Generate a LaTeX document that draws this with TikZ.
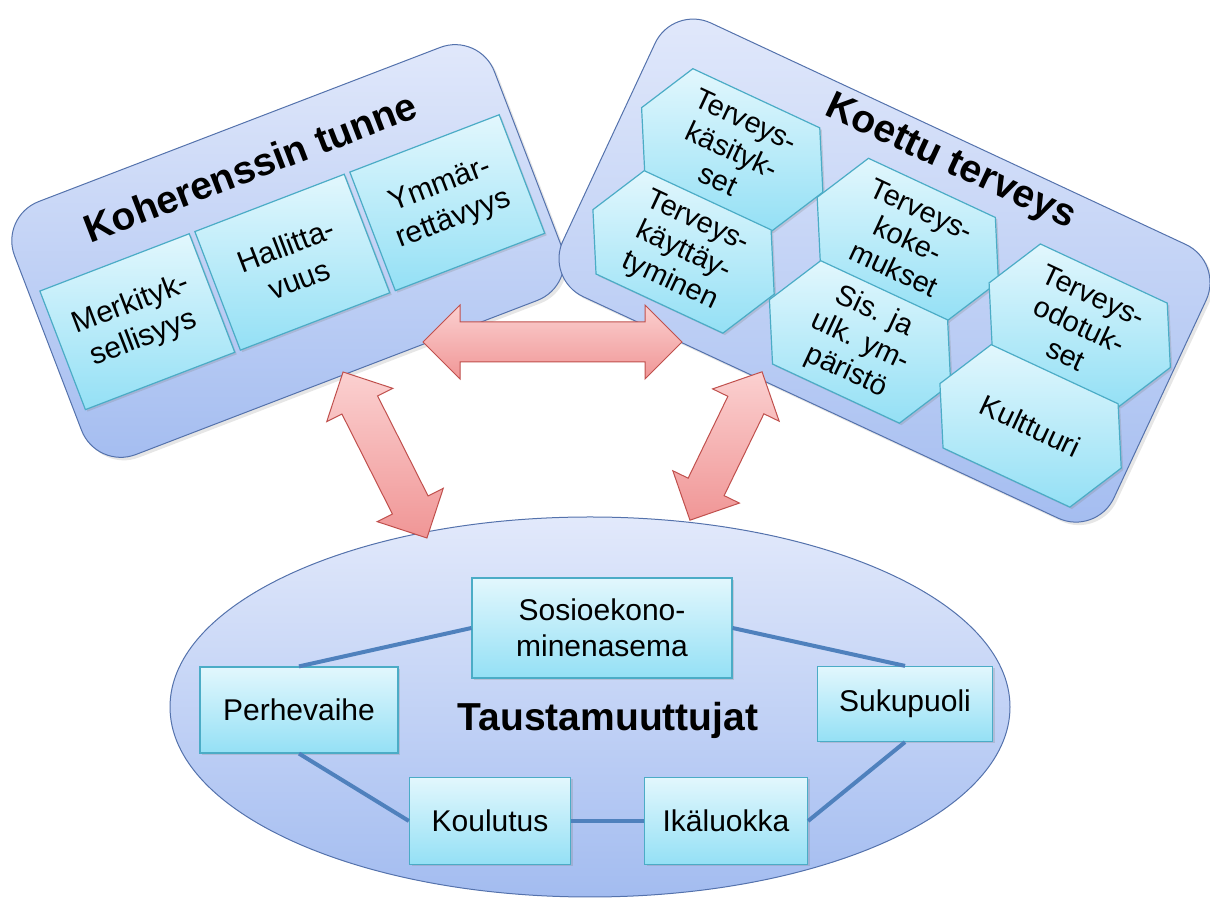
\documentclass[tikz,border=0pt]{standalone}
\usepackage{fontspec}
\setmainfont{Liberation Sans}
\usetikzlibrary{shapes.geometric,shapes.arrows,shadows,calc}
\definecolor{boxtop}{RGB}{226,233,251}
\definecolor{boxbot}{RGB}{163,188,240}
\definecolor{boxline}{RGB}{84,114,172}
\definecolor{celltop}{RGB}{226,247,253}
\definecolor{cellbot}{RGB}{148,224,245}
\definecolor{cellline}{RGB}{75,172,198}
\definecolor{linkblue}{RGB}{79,129,189}
\definecolor{arrowtop}{RGB}{251,208,208}
\definecolor{arrowbot}{RGB}{240,150,150}
\definecolor{arrowline}{RGB}{192,80,77}

% hexagon cell: name, u, v, text
\newcommand{\hexcell}[4]{%
  \draw[hexshape] (#2,#3) ++(-100,0) -- ++(30,57) -- ++(140,0) -- ++(30,-57) -- ++(-30,-57) -- ++(-140,0) -- cycle;
  \node[hextext] (#1) at (#2,#3) {#4};
}

\begin{document}
\begin{tikzpicture}[x=1pt,y=1pt,
  bigbox/.style={draw=boxline, line width=1pt, top color=boxtop, bottom color=boxbot,
    rounded corners=42pt, inner sep=0pt, drop shadow={shadow xshift=3pt, shadow yshift=-3pt, opacity=.2}},
  cell/.style={draw=cellline, line width=1.2pt, top color=celltop, bottom color=cellbot,
    inner sep=0pt, align=center, font=\fontsize{30}{36}\selectfont,
    drop shadow={shadow xshift=2pt, shadow yshift=-2pt, opacity=.25}},
  hexshape/.style={draw=cellline, line width=1.2pt, top color=celltop, bottom color=cellbot,
    drop shadow={shadow xshift=2pt, shadow yshift=-2pt, opacity=.25}},
  hextext/.style={align=center, inner sep=0pt, font=\fontsize{29}{33}\selectfont},
  heading/.style={font=\bfseries\fontsize{39}{44}\selectfont},
  link/.style={draw=linkblue, line width=4pt},
  fatarrow/.style={double arrow, draw=arrowline, line width=1pt, top color=arrowtop, bottom color=arrowbot,
    inner xsep=0pt, inner ysep=19.5pt, double arrow head extend=17pt, double arrow tip angle=90, minimum width=0pt}
]
\useasboundingbox (0,0) rectangle (1210,901);

% Koherenssin tunne
\begin{scope}[shift={(288,650)}, rotate=21, transform shape]
\node[bigbox, minimum width=514pt, minimum height=271pt] (kt) at (0,0) {};
\node[heading] (kt-title) at (-5,92) {Koherenssin tunne};
\node[cell, minimum width=160pt, minimum height=127pt] (merk) at (-166,-12) {Merkityk-\\sellisyys};
\node[cell, minimum width=160pt, minimum height=127pt] (hall) at (0,-12) {Hallitta-\\vuus};
\node[cell, minimum width=160pt, minimum height=127pt] (ymm) at (166,-12) {Ymmär-\\rettävyys};
\end{scope}

% Koettu terveys
\begin{scope}[shift={(884.5,630.4)}, rotate=-25, transform shape]
\node[bigbox, minimum width=608pt, minimum height=302pt] (ter) at (0,0) {};
\node[heading] (ter-title) at (14,125) {Koettu terveys};
\hexcell{kasit}{-189}{45}{Terveys-\\käsityk-\\set}
\hexcell{kaytt}{-190}{-68}{Terveys-\\käyttäy-\\tyminen}
\hexcell{kokem}{8}{38}{Terveys-\\koke-\\mukset}
\hexcell{ympar}{8}{-75}{Sis. ja\\ulk. ym-\\päristö}
\hexcell{odot}{200}{33}{Terveys-\\odotuk-\\set}
\hexcell{kult}{198}{-79}{Kulttuuri}
\end{scope}

% Taustamuuttujat
\node[ellipse, draw=boxline, line width=1pt, top color=boxtop, bottom color=boxbot,
  minimum width=840pt, minimum height=380pt, inner sep=0pt] (tm) at (590,194) {};
\node[heading] (tm-title) at (608,181) {Taustamuuttujat};
\node[cell, minimum width=260pt, minimum height=100pt] (sosio) at (602,273) {Sosioekono-\\minenasema};
\node[cell, minimum width=198pt, minimum height=86pt] (perhe) at (299,191) {Perhevaihe};
\node[cell, minimum width=175pt, minimum height=75pt] (suku) at (905,197) {Sukupuoli};
\node[cell, minimum width=161pt, minimum height=87pt] (koul) at (490,80) {Koulutus};
\node[cell, minimum width=163pt, minimum height=87pt] (ika) at (726,80) {Ikäluokka};

\draw[link] (perhe.north) -- (sosio.west);
\draw[link] (sosio.east) -- (suku.north);
\draw[link] (suku.south) -- (ika.east);
\draw[link] (ika.west) -- (koul.east);
\draw[link] (koul.west) -- (perhe.south);

% two-way arrows
\coordinate (h-left) at (423,559);
\coordinate (h-right) at (682,559);
\coordinate (l-top) at (343,529);
\coordinate (l-bot) at (427,363);
\coordinate (r-top) at (762,529);
\coordinate (r-bot) at (690,381);

\node[fatarrow, minimum height=259pt] (kt-ter) at ($(h-left)!.5!(h-right)$) {};
\node[fatarrow, minimum height=186pt, rotate=-63.2] (kt-tm) at ($(l-top)!.5!(l-bot)$) {};
\node[fatarrow, minimum height=165pt, rotate=64.1] (ter-tm) at ($(r-top)!.5!(r-bot)$) {};
\end{tikzpicture}
\end{document}
